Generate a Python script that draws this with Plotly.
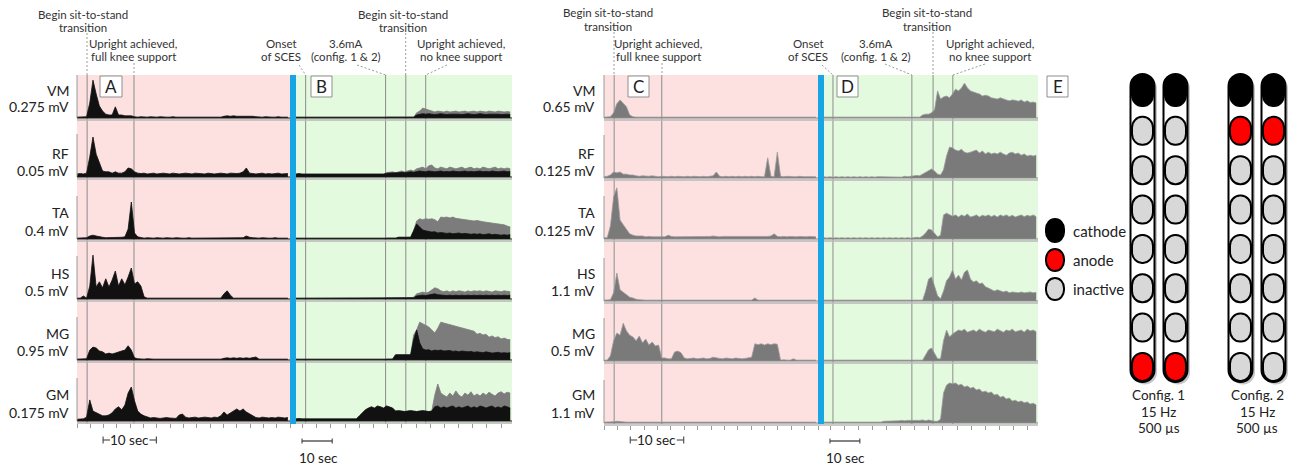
import numpy as np
import plotly.graph_objects as go

W, H = 1293, 465
FONT = "Lato"
TXT = "#222222"
PINK = "#fde1e1"
GREEN = "#e3fadf"
BLUE = "#17a6e3"

MUSCLES = ["VM", "RF", "TA", "HS", "MG", "GM"]
SCALE_1 = [0.275, 0.05, 0.4, 0.5, 0.95, 0.175]   # mV per scale bar, panels A/B
SCALE_2 = [0.65, 0.125, 0.125, 1.1, 0.5, 1.1]    # mV per scale bar, panels C/D

PRE_STEP = 0.6     # s between envelope samples before SCES
POST_STEP = 1.0    # s between envelope samples with SCES
PEAK_T0 = 30.0     # first sample of the peak envelopes with SCES (s)
PRE_RANGE = [0, 40]
POST_RANGE = [0, 71.6]

# ---- rectified EMG envelopes, % of each row's scale bar ----
# Panel A (no stimulation)
A_VM = [2, 2, 2, 3, 35, 88, 56, 28, 16, 9,
        7, 7, 26, 7, 7, 5, 5, 5, 3, 2,
        3, 2, 2, 3, 2, 2, 3, 2, 2, 2,
        3, 2, 2, 2, 3, 2, 2, 3, 2, 2,
        2, 3, 2, 2, 3, 2, 4, 5, 4, 5,
        4, 4, 5, 4, 5, 4, 3, 2, 2, 3,
        2, 2, 2, 3, 2, 2, 2]
A_RF = [7, 8, 7, 9, 47, 93, 53, 35, 14, 12,
        12, 9, 12, 9, 9, 12, 21, 19, 12, 9,
        8, 9, 7, 8, 9, 7, 8, 9, 8, 7,
        9, 8, 7, 8, 9, 8, 7, 9, 8, 8,
        7, 9, 8, 7, 8, 9, 8, 7, 9, 8,
        8, 9, 12, 21, 9, 8, 7, 8, 9, 7,
        8, 7, 8, 9, 7, 8, 8]
A_TA = [2, 2, 2, 3, 7, 9, 7, 5, 4, 3,
        3, 4, 3, 3, 4, 5, 23, 86, 14, 5,
        3, 2, 3, 2, 2, 3, 2, 2, 3, 2,
        2, 3, 2, 2, 2, 3, 2, 2, 3, 2,
        2, 2, 3, 2, 2, 3, 2, 2, 3, 2,
        3, 2, 3, 7, 4, 3, 2, 2, 3, 2,
        2, 2, 3, 2, 2, 2, 2]
A_HS = [2, 2, 7, 2, 30, 102, 28, 40, 26, 47,
        28, 44, 65, 30, 47, 33, 51, 72, 35, 40,
        30, 5, 2, 2, 2, 2, 2, 2, 2, 2,
        2, 2, 2, 2, 2, 2, 2, 2, 2, 2,
        2, 2, 2, 2, 2, 2, 12, 19, 9, 2,
        2, 2, 2, 2, 2, 2, 2, 2, 2, 2,
        2, 2, 2, 2, 2, 2, 2]
A_MG = [2, 2, 2, 3, 23, 30, 28, 21, 19, 14,
        16, 14, 16, 19, 21, 23, 33, 23, 5, 3,
        2, 2, 3, 2, 2, 2, 2, 3, 2, 2,
        2, 2, 2, 3, 2, 2, 2, 2, 2, 3,
        2, 2, 2, 2, 3, 2, 4, 5, 4, 5,
        4, 5, 4, 5, 4, 5, 7, 2, 2, 2,
        2, 2, 2, 2, 2, 2, 2]
A_GM = [4, 5, 5, 9, 49, 23, 19, 16, 12, 12,
        14, 19, 28, 33, 26, 37, 65, 79, 47, 23,
        16, 12, 9, 7, 8, 7, 6, 7, 8, 7,
        7, 6, 14, 16, 9, 7, 8, 9, 7, 8,
        9, 8, 7, 9, 8, 12, 21, 14, 19, 23,
        28, 23, 28, 21, 16, 12, 8, 7, 9, 8,
        7, 8, 7, 9, 8, 7, 8]

# Panel B (with SCES): dense body of the signal
B_VM = [2, 2, 2, 2, 2, 2, 2, 2, 2, 2,
        2, 2, 2, 2, 2, 2, 2, 2, 2, 2,
        2, 2, 2, 2, 2, 2, 2, 2, 2, 2,
        2, 2, 2, 2, 2, 2, 2, 2, 2, 2,
        7, 9, 10, 9, 10, 9, 8, 9, 10, 9,
        8, 9, 9, 10, 9, 8, 9, 10, 9, 8,
        9, 10, 9, 8, 9, 9, 10, 9, 8, 9,
        9, 8]
B_RF = [7, 8, 7, 7, 8, 7, 7, 8, 7, 7,
        8, 7, 7, 8, 7, 7, 8, 7, 7, 8,
        7, 7, 8, 7, 7, 8, 7, 7, 8, 7,
        9, 9, 10, 9, 10, 11, 10, 11, 12, 11,
        12, 14, 13, 12, 14, 13, 12, 13, 14, 12,
        13, 12, 14, 13, 12, 13, 14, 12, 13, 12,
        13, 14, 12, 13, 12, 14, 13, 12, 13, 14,
        12, 13]
B_TA = [2, 2, 2, 2, 2, 2, 2, 2, 2, 2,
        2, 2, 2, 2, 2, 2, 2, 2, 2, 2,
        2, 2, 2, 2, 2, 2, 2, 2, 2, 2,
        2, 2, 2, 2, 4, 4, 4, 4, 4, 19,
        35, 28, 21, 19, 18, 16, 17, 14, 15, 14,
        13, 14, 12, 13, 14, 12, 13, 12, 11, 12,
        11, 12, 10, 11, 12, 10, 11, 10, 9, 10,
        9, 10]
B_HS = [2, 2, 2, 2, 2, 2, 2, 2, 2, 2,
        2, 2, 2, 2, 2, 2, 2, 2, 2, 2,
        2, 2, 2, 2, 2, 2, 2, 2, 2, 2,
        2, 2, 2, 2, 3, 3, 3, 3, 3, 3,
        7, 8, 9, 8, 9, 10, 12, 10, 9, 8,
        8, 9, 8, 9, 8, 9, 8, 9, 8, 9,
        8, 9, 8, 9, 8, 9, 8, 9, 8, 9,
        8, 9]
B_MG = [2, 2, 2, 2, 2, 2, 2, 2, 2, 2,
        2, 2, 2, 2, 2, 2, 2, 2, 2, 2,
        2, 2, 2, 2, 2, 2, 2, 2, 2, 2,
        2, 2, 2, 12, 12, 12, 12, 12, 12, 47,
        70, 40, 26, 23, 24, 21, 23, 22, 23, 21,
        21, 22, 20, 21, 19, 21, 20, 19, 20, 18,
        19, 18, 17, 19, 18, 16, 17, 18, 16, 17,
        16, 17]
B_GM = [5, 6, 5, 5, 6, 5, 5, 6, 5, 5,
        6, 5, 5, 6, 5, 5, 6, 5, 5, 6,
        5, 12, 19, 26, 30, 33, 30, 35, 33, 30,
        35, 33, 30, 23, 24, 23, 22, 23, 24, 23,
        22, 23, 24, 23, 22, 23, 33, 35, 30, 33,
        30, 33, 35, 30, 33, 30, 33, 35, 30, 33,
        30, 35, 33, 30, 33, 35, 30, 33, 30, 35,
        33, 30]

# Panel B peak envelopes, from PEAK_T0 onwards
BP_VM = [2, 2, 2, 2, 2, 2, 2, 2, 2, 2,
         12, 16, 23, 21, 19, 16, 14, 16, 15, 14,
         16, 14, 15, 16, 14, 15, 16, 14, 15, 16,
         14, 16, 15, 14, 16, 15, 14, 16, 15, 14,
         15, 14]
BP_RF = [10, 11, 12, 10, 12, 14, 12, 14, 16, 14,
         19, 21, 23, 19, 26, 28, 21, 19, 23, 21,
         19, 23, 21, 19, 21, 23, 19, 21, 23, 19,
         21, 19, 23, 21, 19, 21, 23, 19, 21, 19,
         21, 19]
BP_TA = [2, 2, 2, 2, 4, 4, 4, 4, 4, 20,
         42, 47, 45, 47, 46, 47, 45, 40, 51, 50,
         51, 49, 51, 48, 47, 46, 45, 44, 44, 42,
         43, 41, 40, 39, 38, 37, 36, 35, 34, 33,
         30, 28]
BP_HS = [2, 2, 2, 2, 3, 3, 3, 3, 3, 4,
         12, 14, 16, 14, 16, 21, 26, 24, 19, 17,
         19, 16, 19, 17, 19, 18, 16, 19, 17, 19,
         18, 19, 17, 19, 18, 16, 19, 18, 17, 19,
         18, 17]
BP_MG = [2, 2, 2, 12, 12, 12, 12, 12, 12, 58,
         70, 88, 84, 81, 77, 70, 63, 74, 88, 86,
         84, 83, 81, 79, 77, 74, 72, 70, 68, 67,
         60, 62, 58, 60, 53, 56, 52, 54, 49, 51,
         48, 47]
BP_GM = [35, 33, 30, 23, 24, 23, 22, 23, 24, 23,
         22, 23, 24, 23, 22, 23, 60, 86, 65, 60,
         56, 65, 58, 70, 60, 56, 65, 60, 68, 58,
         63, 58, 65, 60, 67, 62, 58, 65, 68, 63,
         67, 65]

# Panel C (no stimulation)
C_VM = [2, 2, 3, 12, 33, 42, 35, 26, 7, 3,
        2, 2, 2, 2, 3, 2, 2, 2, 2, 2,
        2, 2, 2, 3, 2, 2, 2, 2, 2, 3,
        2, 2, 2, 2, 2, 2, 3, 2, 2, 2,
        2, 2, 2, 2, 2, 3, 2, 2, 2, 2,
        2, 2, 2, 2, 2, 2, 2, 3, 2, 2,
        2, 2, 2, 2, 2, 2, 2]
C_RF = [3, 4, 7, 14, 12, 14, 9, 9, 7, 7,
        5, 4, 5, 4, 4, 5, 4, 3, 4, 3,
        3, 4, 3, 4, 3, 3, 4, 3, 4, 3,
        3, 4, 3, 4, 5, 14, 4, 3, 4, 3,
        4, 3, 4, 3, 4, 3, 4, 3, 4, 3,
        3, 47, 4, 3, 60, 4, 3, 4, 3, 3,
        3, 4, 3, 3, 4, 3, 3]
C_TA = [3, 3, 30, 98, 119, 44, 33, 21, 12, 9,
        7, 7, 7, 5, 6, 5, 5, 6, 5, 5,
        9, 6, 5, 5, 6, 5, 5, 6, 5, 6,
        5, 6, 5, 6, 7, 6, 5, 6, 6, 5,
        6, 5, 6, 5, 6, 6, 5, 6, 5, 6,
        5, 6, 7, 12, 6, 5, 6, 5, 6, 5,
        5, 6, 5, 5, 6, 5, 5]
C_HS = [2, 2, 3, 19, 65, 26, 21, 16, 9, 7,
        4, 3, 2, 2, 2, 2, 2, 2, 2, 2,
        2, 2, 2, 2, 2, 2, 2, 2, 2, 2,
        2, 2, 2, 2, 2, 2, 2, 2, 2, 2,
        2, 2, 2, 2, 2, 2, 2, 7, 2, 2,
        2, 2, 2, 2, 2, 2, 2, 2, 2, 2,
        2, 2, 2, 2, 2, 2, 2]
C_MG = [2, 2, 12, 47, 65, 60, 88, 70, 60, 56,
        47, 58, 42, 51, 37, 44, 35, 37, 7, 7,
        5, 5, 21, 23, 19, 7, 5, 6, 7, 5,
        6, 7, 5, 6, 9, 7, 6, 5, 7, 6,
        5, 7, 6, 5, 6, 7, 9, 40, 38, 40,
        37, 40, 38, 40, 39, 2, 3, 2, 2, 5,
        2, 2, 2, 2, 2, 2, 2]
C_GM = [2, 2, 2, 3, 4, 3, 2, 2, 2, 2,
        2, 2, 2, 3, 2, 2, 2, 2, 2, 2,
        2, 2, 2, 2, 2, 3, 2, 2, 2, 2,
        2, 2, 2, 2, 2, 2, 2, 3, 2, 2,
        2, 2, 2, 2, 2, 2, 2, 2, 3, 2,
        2, 2, 3, 2, 2, 2, 2, 2, 2, 2,
        2, 2, 2, 2, 3, 2, 2]

# Panel D (with SCES)
D_VM = [2, 2, 2, 2, 2, 2, 2, 2, 2, 2,
        2, 2, 2, 2, 2, 2, 2, 2, 2, 2,
        2, 2, 2, 2, 2, 2, 2, 2, 2, 2,
        2, 2, 2, 7, 9, 9, 12, 19, 63, 44,
        49, 51, 47, 56, 67, 63, 70, 81, 70, 63,
        60, 58, 56, 51, 53, 51, 47, 46, 44, 47,
        44, 42, 40, 42, 41, 39, 42, 37, 40, 36,
        37, 35]
D_RF = [3, 2, 3, 2, 3, 2, 3, 2, 3, 2,
        3, 2, 3, 2, 3, 2, 3, 2, 3, 3,
        2, 3, 3, 2, 3, 3, 2, 4, 3, 4,
        5, 6, 5, 9, 14, 19, 21, 16, 9, 7,
        19, 51, 72, 70, 65, 63, 67, 60, 58, 60,
        63, 65, 58, 63, 56, 60, 56, 58, 56, 60,
        56, 53, 58, 60, 56, 58, 53, 56, 51, 53,
        51, 53]
D_TA = [3, 2, 3, 2, 3, 2, 3, 2, 3, 2,
        3, 2, 3, 2, 3, 2, 3, 2, 3, 2,
        3, 2, 3, 2, 3, 2, 3, 2, 3, 2,
        3, 4, 3, 7, 14, 23, 21, 12, 5, 9,
        56, 60, 56, 53, 56, 51, 56, 53, 58, 51,
        53, 56, 51, 55, 53, 56, 52, 55, 51, 56,
        53, 56, 52, 55, 51, 54, 56, 52, 55, 53,
        56, 52]
D_HS = [2, 2, 2, 2, 2, 2, 2, 2, 2, 2,
        2, 2, 2, 2, 2, 2, 2, 2, 2, 2,
        2, 2, 2, 2, 2, 2, 2, 2, 2, 2,
        2, 2, 2, 2, 23, 51, 56, 35, 12, 5,
        23, 47, 56, 72, 51, 60, 49, 67, 72, 51,
        44, 47, 40, 42, 33, 30, 26, 23, 26, 23,
        21, 23, 19, 21, 20, 19, 21, 19, 20, 21,
        19, 20]
D_MG = [2, 2, 2, 2, 2, 2, 2, 2, 2, 2,
        2, 2, 2, 2, 2, 2, 2, 2, 2, 2,
        2, 2, 2, 2, 2, 2, 2, 2, 2, 2,
        2, 2, 2, 2, 14, 26, 30, 19, 5, 5,
        47, 72, 56, 63, 67, 72, 70, 74, 67, 70,
        72, 68, 74, 70, 67, 72, 70, 68, 74, 70,
        67, 72, 70, 74, 68, 70, 72, 67, 74, 70,
        72, 68]
D_GM = [2, 2, 2, 2, 2, 2, 2, 2, 2, 2,
        2, 2, 2, 2, 2, 2, 2, 2, 2, 2,
        4, 4, 5, 4, 5, 5, 6, 5, 6, 6,
        6, 5, 6, 7, 5, 7, 5, 4, 4, 9,
        70, 88, 93, 91, 93, 88, 90, 84, 86, 81,
        83, 77, 79, 72, 74, 70, 72, 65, 67, 60,
        62, 56, 58, 51, 53, 49, 51, 47, 49, 44,
        46, 42]

# Event times (s): sit-to-stand start, upright; then SCES onset, 3.6 mA, sit-to-stand, upright
EV_A = [1.9, 10.7]
EV_B = [3.2, 29.7, 36.4, 43.0]
EV_C = [1.9, 10.8]
EV_D = [3.0, 29.4, 36.5, 43.1]

# Electrode configurations (rostral -> caudal contacts)
CONFIG_1 = ["cathode", "inactive", "inactive", "inactive", "inactive", "inactive", "inactive", "anode"]
CONFIG_2 = ["cathode", "anode", "inactive", "inactive", "inactive", "inactive", "inactive", "inactive"]
ROLE_COLOR = {"cathode": "#000000", "anode": "#ff0000", "inactive": "#d8d8d8"}


def px(x):
    return x / W


def py(y):
    return 1 - y / H


def axkey(letter, n):
    return f"{letter}axis" if n == 1 else f"{letter}axis{n}"


def axref(letter, n):
    return letter if n == 1 else f"{letter}{n}"


PANELS = [
    dict(pre=(77, 290), post=(296, 512), bar=(290, 296),
         base=[118, 177, 239, 299, 360, 421], label_x=71, scales=SCALE_1,
         pre_data=[A_VM, A_RF, A_TA, A_HS, A_MG, A_GM],
         post_data=[B_VM, B_RF, B_TA, B_HS, B_MG, B_GM],
         post_peak=[BP_VM, BP_RF, BP_TA, BP_HS, BP_MG, BP_GM],
         ev_pre=EV_A, ev_post=EV_B, letters=[("A", 100, 122), ("B", 311, 332)],
         body="#111111", peak="#7c7c7c", base_col="#1a1a1a"),
    dict(pre=(604, 818), post=(824, 1038), bar=(818, 824),
         base=[118, 178, 239, 301, 361, 423], label_x=597, scales=SCALE_2,
         pre_data=[C_VM, C_RF, C_TA, C_HS, C_MG, C_GM],
         post_data=[D_VM, D_RF, D_TA, D_HS, D_MG, D_GM],
         post_peak=None,
         ev_pre=EV_C, ev_post=EV_D, letters=[("C", 628, 649), ("D", 837, 858)],
         body="#7a7a7a", peak="#9a9a9a", base_col="#8a8a8a"),
]

TOP_LABELS = [
    [("Begin sit-to-stand", "transition", 83, 14), ("Upright achieved,", "full knee support", 133, 43),
     ("Onset", "of SCES", 281, 43), ("3.6mA", "(config. 1 & 2)", 346, 43),
     ("Begin sit-to-stand", "transition", 403, 14), ("Upright achieved,", "no knee support", 461, 43)],
    [("Begin sit-to-stand", "transition", 608, 13), ("Upright achieved,", "full knee support", 658, 43),
     ("Onset", "of SCES", 808, 43), ("3.6mA", "(config. 1 & 2)", 876, 43),
     ("Begin sit-to-stand", "transition", 927, 13), ("Upright achieved,", "no knee support", 990, 43)],
]
LEADERS = [
    [((87, 33), (87, 75)), ((134, 63), (134, 75)), ((299, 65), (305.7, 75)),
     ((357, 65), (385.7, 75)), ((405.7, 33), (405.7, 75)), ((447, 65), (425.7, 75))],
    [((614, 32), (614, 75)), ((662, 63), (662, 75)), ((822, 65), (833, 75)),
     ((885, 64), (912, 75)), ((933, 32), (933, 75)), ((985, 64), (953, 75))],
]
NAME_Y = [91, 153, 213, 273, 333, 394]
MV_Y = [106, 170, 230, 290, 350, 412]

layout = dict(width=W, height=H, margin=dict(l=0, r=0, t=0, b=0),
              paper_bgcolor="white", plot_bgcolor="rgba(0,0,0,0)",
              showlegend=False, hovermode=False)
shapes, annotations, traces = [], [], []


def text(s, x, y, size, anchor="center", color=TXT, **kw):
    annotations.append(dict(text=s, x=x, y=y, xref=kw.pop("xref", "paper"), yref="paper",
                            xanchor=anchor, yanchor="middle", showarrow=False,
                            font=dict(family=FONT, size=size, color=color), **kw))


def area(t, vals, scale, xa, ya, fill, line, lw):
    return go.Scatter(x=t, y=np.asarray(vals, float) / 100.0 * scale, xaxis=xa, yaxis=ya,
                      mode="lines", fill="tozeroy", fillcolor=fill,
                      line=dict(color=line, width=lw), hoverinfo="skip")


for p, P in enumerate(PANELS):
    xpre, xpost = 2 * p + 1, 2 * p + 2
    left, right = P["pre"][0], P["post"][1]
    axis_y = py(P["base"][-1] + 2)
    for n, dom, rng, t0, dt in [(xpre, P["pre"], PRE_RANGE, 0, 2.5),
                                (xpost, P["post"], POST_RANGE, 2.2, 4.7)]:
        layout[axkey("x", n)] = dict(domain=[px(dom[0]), px(dom[1])], range=rng,
                                     anchor="free", position=axis_y, showgrid=False,
                                     zeroline=False, showline=False, showticklabels=False,
                                     ticks="outside", ticklen=4, tickwidth=1,
                                     tickcolor="#9a9a9a", tickmode="linear",
                                     tick0=t0, dtick=dt, fixedrange=True)

    # backgrounds
    shapes.append(dict(type="rect", xref="paper", yref="paper", x0=px(P["pre"][0]), x1=px(P["pre"][1]),
                       y0=py(424), y1=py(75), fillcolor=PINK, line_width=0, layer="below"))
    shapes.append(dict(type="rect", xref="paper", yref="paper", x0=px(P["post"][0]), x1=px(P["post"][1]),
                       y0=py(424), y1=py(75), fillcolor=GREEN, line_width=0, layer="below"))
    # event markers
    for n, evs in [(xpre, P["ev_pre"]), (xpost, P["ev_post"])]:
        for t in evs:
            shapes.append(dict(type="line", xref=axref("x", n), yref="paper", x0=t, x1=t,
                               y0=py(424), y1=py(75), line=dict(color="#8c8c8c", width=1),
                               layer="below"))

    for r in range(6):
        yn = 6 * p + r + 1
        base = P["base"][r]
        top = 75 if r == 0 else base - 57
        scale = P["scales"][r]
        layout[axkey("y", yn)] = dict(domain=[py(base), py(top)], range=[0, scale * (base - top) / 43],
                                      visible=False, anchor=axref("x", xpre), fixedrange=True)
        ya = axref("y", yn)
        pre = P["pre_data"][r]
        traces.append(area(np.arange(len(pre)) * PRE_STEP, pre, scale, axref("x", xpre), ya,
                           P["body"], P["body"] if p == 0 else P["peak"], 0.8))
        if P["post_peak"] is not None:
            pk = P["post_peak"][r]
            traces.append(area(PEAK_T0 + np.arange(len(pk)) * POST_STEP, pk, scale,
                               axref("x", xpost), ya, P["peak"], P["peak"], 0.8))
        post = P["post_data"][r]
        traces.append(area(np.arange(len(post)) * POST_STEP, post, scale, axref("x", xpost), ya,
                           P["body"], P["body"] if p == 0 else P["peak"], 0.8))

        # scale bar line at the left edge of the row
        shapes.append(dict(type="line", xref="paper", yref=ya, x0=px(left), x1=px(left),
                           y0=0, y1=scale, line=dict(color="#9a9a9a", width=1)))
        # baseline and row divider
        shapes.append(dict(type="line", xref="paper", yref="paper", x0=px(left), x1=px(right),
                           y0=py(base), y1=py(base), line=dict(color=P["base_col"], width=1.2)))
        shapes.append(dict(type="line", xref="paper", yref="paper", x0=px(left), x1=px(right),
                           y0=py(base + 2), y1=py(base + 2), line=dict(color="#b8b8b8", width=1.5)))
        # row labels
        text(MUSCLES[r], px(P["label_x"]), py(NAME_Y[r]), 14, anchor="right")
        text(f"{scale:g} mV", px(P["label_x"]), py(MV_Y[r]), 14, anchor="right")

    # SCES onset bar
    shapes.append(dict(type="rect", xref="paper", yref="paper", x0=px(P["bar"][0]), x1=px(P["bar"][1]),
                       y0=py(424), y1=py(75), fillcolor=BLUE, line_width=0))

    # panel letters
    for s, x0, x1 in P["letters"]:
        shapes.append(dict(type="rect", xref="paper", yref="paper", x0=px(x0), x1=px(x1),
                           y0=py(97), y1=py(76), fillcolor="white", line=dict(color="#8f8f8f", width=1)))
        text(s, px((x0 + x1) / 2), py(86.5), 17)

    # event labels and leaders
    for l1, l2, cx, y in TOP_LABELS[p]:
        text(l1, px(cx), py(y), 11.5, color="#333333")
        text(l2, px(cx), py(y + 13.5), 11.5, color="#333333")
    for (xa_, ya_), (xb, yb) in LEADERS[p]:
        shapes.append(dict(type="line", xref="paper", yref="paper", x0=px(xa_), y0=py(ya_),
                           x1=px(xb), y1=py(yb), line=dict(color="#9a9a9a", width=1, dash="2px,2px")))

    # 10 s scale bars (pre-SCES time base)
    xr = axref("x", xpre)
    t0, t1 = 4.9, 14.9
    for a, b in [(t0, t0 + 1.3), (t1 - 1.3, t1)]:
        shapes.append(dict(type="line", xref=xr, yref="paper", x0=a, x1=b, y0=py(440), y1=py(440),
                           line=dict(color="#333333", width=1)))
    for t in (t0, t1):
        shapes.append(dict(type="line", xref=xr, yref="paper", x0=t, x1=t, y0=py(436.5), y1=py(443.5),
                           line=dict(color="#333333", width=1)))
    text("10 sec", (t0 + t1) / 2, py(440), 13.5, xref=xr)

    # 10 s scale bar (SCES time base)
    xr = axref("x", xpost)
    t0, t1 = 2.0, 12.0
    shapes.append(dict(type="line", xref=xr, yref="paper", x0=t0, x1=t1, y0=py(441), y1=py(441),
                       line=dict(color="#333333", width=1.2)))
    for t in (t0, t1):
        shapes.append(dict(type="line", xref=xr, yref="paper", x0=t, x1=t, y0=py(438.5), y1=py(443.5),
                           line=dict(color="#333333", width=1)))
    text("10 sec", (t0 + t1) / 2 + 0.3, py(458), 13.5, xref=xr)

# panel E box
shapes.append(dict(type="rect", xref="paper", yref="paper", x0=px(1047), x1=px(1068),
                   y0=py(97), y1=py(76), fillcolor="white", line=dict(color="#8f8f8f", width=1)))
text("E", px(1057.5), py(86.5), 17)

K = 0.5523


def rrect(x0, y0, x1, y1, rx, ry):
    def P(x, y):
        return f"{px(x):.6f},{py(y):.6f}"
    return (f"M{P(x0, y0 + ry)} "
            f"C{P(x0, y0 + ry - K * ry)} {P(x0 + rx - K * rx, y0)} {P(x0 + rx, y0)} "
            f"L{P(x1 - rx, y0)} "
            f"C{P(x1 - rx + K * rx, y0)} {P(x1, y0 + ry - K * ry)} {P(x1, y0 + ry)} "
            f"L{P(x1, y1 - ry)} "
            f"C{P(x1, y1 - ry + K * ry)} {P(x1 - rx + K * rx, y1)} {P(x1 - rx, y1)} "
            f"L{P(x0 + rx, y1)} "
            f"C{P(x0 + rx - K * rx, y1)} {P(x0, y1 - ry + K * ry)} {P(x0, y1 - ry)} Z")


LEAD_X = [1130.5, 1163.5, 1228.5, 1261.5]
LEADS = [CONFIG_1, CONFIG_1, CONFIG_2, CONFIG_2]
for x0, cfg in zip(LEAD_X, LEADS):
    shapes.append(dict(type="path", xref="paper", yref="paper",
                       path=rrect(x0 + 2.5, 76.5, x0 + 26.5, 384.5, 12, 12),
                       fillcolor="rgba(0,0,0,0.22)", line_width=0))
    shapes.append(dict(type="path", xref="paper", yref="paper",
                       path=rrect(x0, 74, x0 + 24, 382, 12, 12),
                       fillcolor="white", line=dict(color="black", width=2)))
    for k, role in enumerate(cfg):
        if k == 0:
            y0, y1 = 75, 106
        else:
            c = 91.5 + 39.35 * k
            y0, y1 = c - 14, c + 14
        shapes.append(dict(type="path", xref="paper", yref="paper",
                           path=rrect(x0 + 1.5, y0, x0 + 22.5, y1, 10, 11),
                           fillcolor=ROLE_COLOR[role], line=dict(color="black", width=2)))

for cx, name in [(1158.5, "Config. 1"), (1257, "Config. 2")]:
    text(name, px(cx), py(395), 13.5)
    text("15 Hz", px(cx), py(412), 13.5)
    text("500 µs", px(cx), py(428), 13.5)

# electrode legend
for role, (y0, y1) in zip(["cathode", "anode", "inactive"], [(219, 242), (249, 271), (278, 300)]):
    shapes.append(dict(type="path", xref="paper", yref="paper",
                       path=rrect(1046, y0, 1064, y1, 9, 10),
                       fillcolor=ROLE_COLOR[role], line=dict(color="black", width=2)))
    text(role, px(1071), py((y0 + y1) / 2), 15, anchor="left")

layout["shapes"] = shapes
layout["annotations"] = annotations
fig = go.Figure(data=traces, layout=layout)
fig.write_html("out.html")
